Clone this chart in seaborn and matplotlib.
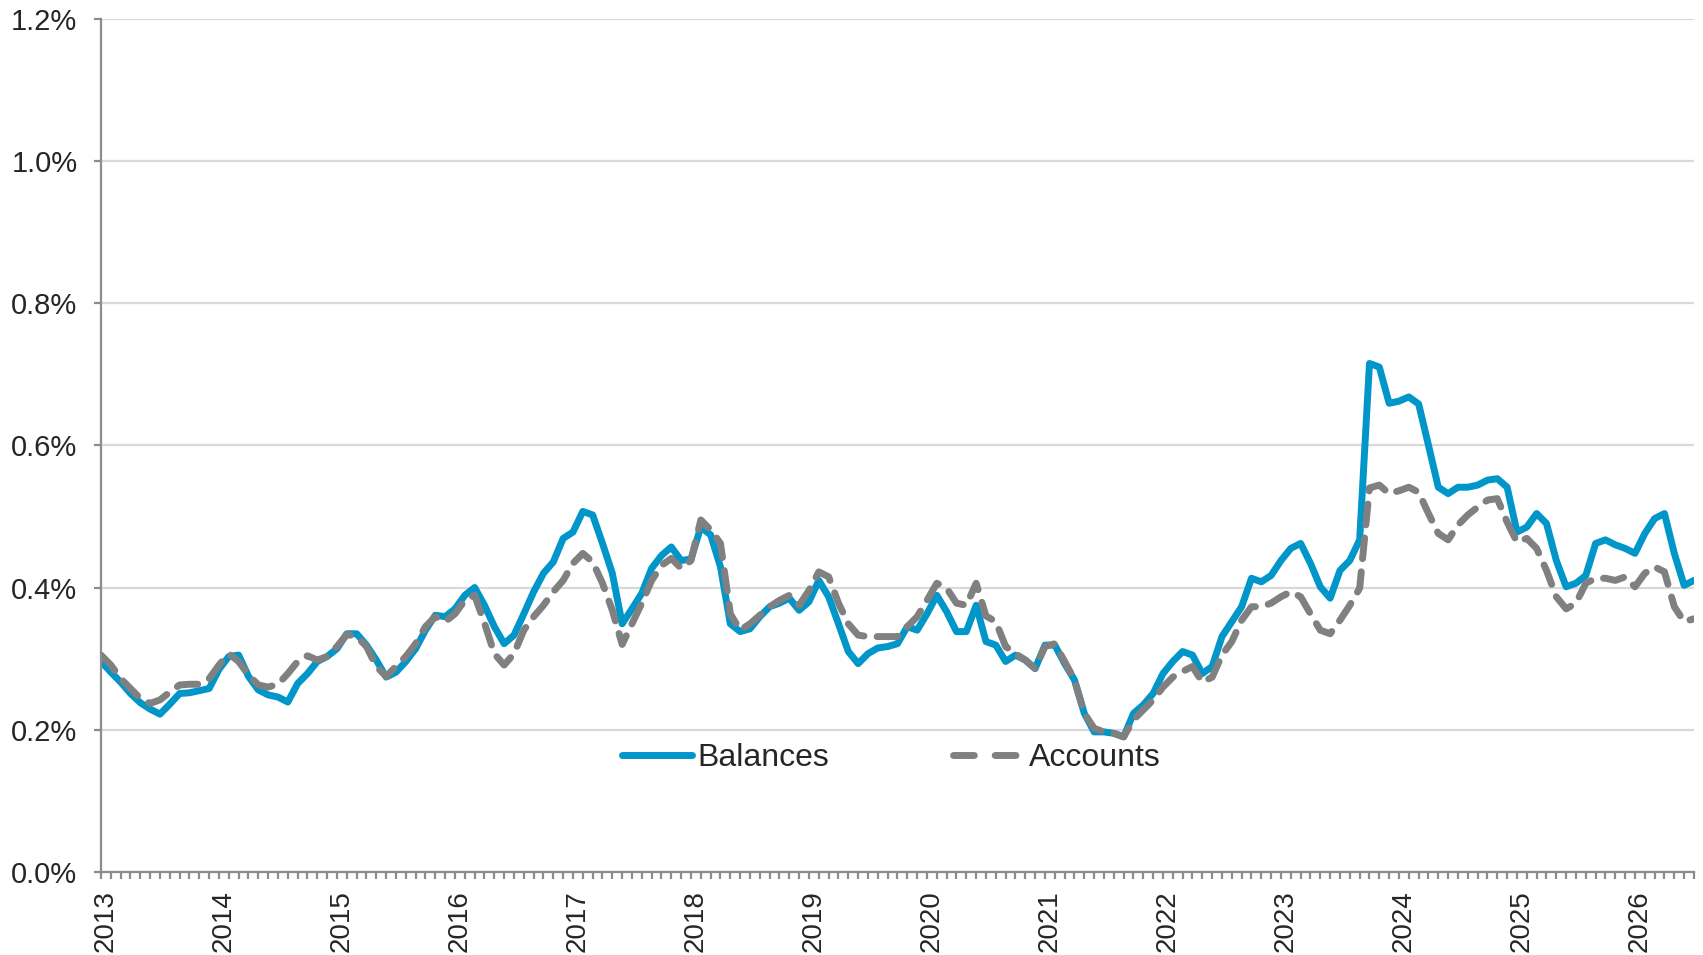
import matplotlib
matplotlib.use("Agg")
import matplotlib.pyplot as plt
import matplotlib.transforms as mtransforms
from matplotlib.ticker import MultipleLocator, FuncFormatter
import seaborn as sns
import pandas as pd

# monthly series, Jan 2013 .. Jul 2026 (in %)
balances = [
    0.296, 0.281, 0.267, 0.251, 0.238, 0.229, 0.222, 0.236, 0.251, 0.252, 0.255, 0.258,
    0.285, 0.303, 0.305, 0.275, 0.256, 0.249, 0.246, 0.239, 0.265, 0.279, 0.296, 0.303,
    0.314, 0.335, 0.335, 0.319, 0.298, 0.274, 0.281, 0.296, 0.314, 0.340, 0.361, 0.359,
    0.370, 0.389, 0.400, 0.375, 0.345, 0.321, 0.333, 0.363, 0.394, 0.420, 0.436, 0.469,
    0.478, 0.507, 0.502, 0.462, 0.420, 0.349, 0.370, 0.392, 0.427, 0.445, 0.457, 0.438,
    0.440, 0.485, 0.474, 0.429, 0.349, 0.338, 0.342, 0.359, 0.373, 0.378, 0.385, 0.368,
    0.380, 0.410, 0.387, 0.349, 0.310, 0.293, 0.307, 0.315, 0.317, 0.321, 0.345, 0.340,
    0.363, 0.389, 0.366, 0.338, 0.338, 0.375, 0.324, 0.319, 0.296, 0.305, 0.298, 0.286,
    0.319, 0.319, 0.293, 0.270, 0.223, 0.197, 0.197, 0.195, 0.190, 0.223, 0.235, 0.251,
    0.279, 0.296, 0.310, 0.305, 0.279, 0.289, 0.331, 0.352, 0.373, 0.413, 0.408, 0.417,
    0.438, 0.455, 0.462, 0.434, 0.401, 0.385, 0.424, 0.438, 0.467, 0.715, 0.710, 0.659,
    0.662, 0.668, 0.658, 0.600, 0.541, 0.532, 0.541, 0.541, 0.544, 0.551, 0.553, 0.541,
    0.478, 0.485, 0.504, 0.490, 0.438, 0.401, 0.406, 0.417, 0.462, 0.467, 0.460, 0.455,
    0.448, 0.476, 0.497, 0.504, 0.448, 0.403, 0.410,
]
accounts = [
    0.305, 0.291, 0.272, 0.258, 0.244, 0.237, 0.242, 0.253, 0.263, 0.264, 0.264, 0.272,
    0.291, 0.307, 0.296, 0.277, 0.263, 0.260, 0.264, 0.279, 0.296, 0.304, 0.298, 0.303,
    0.317, 0.334, 0.331, 0.317, 0.289, 0.275, 0.289, 0.303, 0.321, 0.345, 0.359, 0.352,
    0.363, 0.382, 0.389, 0.350, 0.307, 0.291, 0.307, 0.340, 0.359, 0.375, 0.394, 0.410,
    0.434, 0.448, 0.436, 0.406, 0.368, 0.320, 0.349, 0.378, 0.410, 0.431, 0.441, 0.427,
    0.438, 0.495, 0.481, 0.462, 0.363, 0.340, 0.349, 0.361, 0.373, 0.382, 0.389, 0.375,
    0.396, 0.422, 0.415, 0.378, 0.349, 0.333, 0.331, 0.331, 0.331, 0.331, 0.345, 0.359,
    0.382, 0.406, 0.399, 0.378, 0.375, 0.406, 0.360, 0.352, 0.317, 0.307, 0.298, 0.286,
    0.317, 0.321, 0.296, 0.270, 0.223, 0.202, 0.197, 0.195, 0.190, 0.214, 0.228, 0.242,
    0.260, 0.274, 0.282, 0.289, 0.267, 0.274, 0.305, 0.324, 0.354, 0.373, 0.373, 0.378,
    0.387, 0.394, 0.387, 0.363, 0.340, 0.335, 0.354, 0.375, 0.399, 0.540, 0.544, 0.532,
    0.536, 0.541, 0.534, 0.504, 0.476, 0.467, 0.488, 0.502, 0.513, 0.523, 0.525, 0.492,
    0.464, 0.469, 0.455, 0.424, 0.387, 0.370, 0.378, 0.406, 0.413, 0.413, 0.410, 0.415,
    0.401, 0.420, 0.429, 0.422, 0.373, 0.352, 0.356,
]
years = list(range(2013, 2027))

df = pd.DataFrame({"month": range(len(balances)), "Balances": balances, "Accounts": accounts})

sns.set_style("white")
plt.rcParams["font.family"] = ["Liberation Sans", "DejaVu Sans"]

fig = plt.figure(figsize=(17.03, 9.55), dpi=100)
ax = fig.add_axes([0.0593, 0.0869, 0.9354, 0.8937])

blue = "#0096C9"
grey = "#808080"
sns.lineplot(data=df, x="month", y="Balances", ax=ax, color=blue, lw=5,
             label="Balances", solid_capstyle="round")
sns.lineplot(data=df, x="month", y="Accounts", ax=ax, color=grey, lw=5,
             label="Accounts", dashes=False)
ax.lines[-1].set_dashes([3.0, 1.9])
ax.lines[-1].set_dash_capstyle("round")

ax.set_xlim(0, len(balances) - 1)
ax.set_ylim(0, 1.2)
ax.yaxis.set_major_locator(MultipleLocator(0.2))
ax.yaxis.set_major_formatter(FuncFormatter(lambda v, p: f"{v:.1f}%"))
ax.set_xticks([12 * i for i in range(len(years))])
ax.set_xticklabels([str(y) for y in years], rotation=90)
ax.xaxis.set_minor_locator(MultipleLocator(1))
ax.set_xlabel("")
ax.set_ylabel("")

ax.grid(axis="y", color="#D9D9D9", lw=1.6)
ax.set_axisbelow(True)
for s in ["top", "right"]:
    ax.spines[s].set_visible(False)
for s in ["left", "bottom"]:
    ax.spines[s].set_color("#8C8C8C")
    ax.spines[s].set_linewidth(1.6)

ax.tick_params(axis="y", which="major", left=True, length=5, width=1.6, color="#8C8C8C",
               labelsize=21, pad=12)
ax.tick_params(axis="x", which="both", bottom=True, length=5, width=1.6, color="#8C8C8C",
               labelsize=20, pad=8)

# year labels sit a little right of their tick, like the original
shift = mtransforms.ScaledTranslation(0.05, 0, fig.dpi_scale_trans)
for lab in ax.get_xticklabels():
    lab.set_transform(lab.get_transform() + shift)

leg = ax.legend(loc="center", bbox_to_anchor=(0.496, 0.133), ncol=2, frameon=False,
                fontsize=23, handlelength=2.2, handletextpad=0.15, columnspacing=3.9)
leg.get_lines()[1].set_dashes([3.0, 3.0])
leg.get_lines()[1].set_dash_capstyle("round")

fig.savefig("out.png", dpi=100)
